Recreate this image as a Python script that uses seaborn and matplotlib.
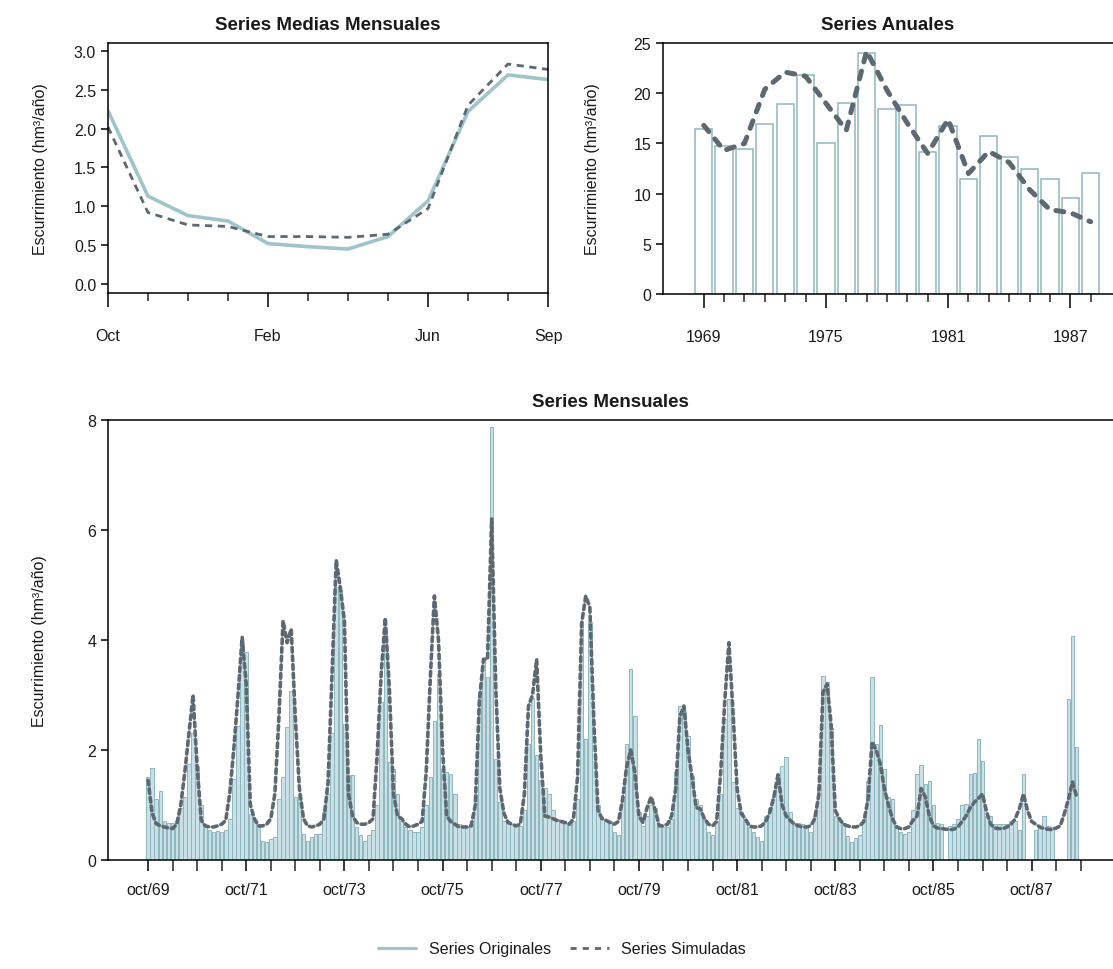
import numpy as np
import pandas as pd
import matplotlib
matplotlib.use("Agg")
import matplotlib.pyplot as plt
from matplotlib.lines import Line2D
from matplotlib.ticker import MultipleLocator, FixedLocator
import seaborn as sns

# -----------------------------
# Data
# -----------------------------
month_names = ["Oct", "Nov", "Dec", "Jan", "Feb", "Mar", "Apr", "May", "Jun", "Jul", "Aug", "Sep"]
mean_orig = [2.23, 1.13, 0.88, 0.81, 0.52, 0.48, 0.45, 0.61, 1.07, 2.22, 2.69, 2.63]
mean_sim = [2.02, 0.92, 0.76, 0.74, 0.61, 0.61, 0.60, 0.64, 0.97, 2.30, 2.83, 2.76]

years = list(range(1969, 1989))
annual_orig = [16.4, 14.7, 14.4, 16.9, 18.9, 21.8, 15.0, 19.0, 24.0, 18.4,
               18.8, 14.1, 16.7, 11.5, 15.7, 13.6, 12.5, 11.5, 9.6, 12.1]
annual_sim = [16.8, 14.3, 15.0, 20.4, 22.1, 21.7, 19.0, 16.3, 24.2, 20.3,
              17.0, 14.0, 17.4, 12.0, 14.2, 13.1, 10.4, 8.4, 8.1, 7.2]

nan = np.nan
# hydrological years oct/69 .. sep/88, one row per year
monthly_orig = [
    1.50, 1.67, 1.10, 1.26, 0.70, 0.68, 0.68, 0.70, 0.95, 1.15, 1.74, 2.30,
    1.70, 1.00, 0.60, 0.55, 0.50, 0.52, 0.50, 0.55, 0.75, 1.47, 2.44, 3.96,
    3.78, 0.84, 0.75, 0.60, 0.35, 0.33, 0.38, 0.42, 1.10, 1.50, 2.42, 3.07,
    1.15, 1.20, 0.48, 0.35, 0.42, 0.48, 0.48, 0.87, 1.20, 2.30, 4.96, 4.90,
    2.47, 1.55, 1.55, 0.60, 0.45, 0.35, 0.45, 0.55, 1.00, 2.87, 4.14, 1.78,
    1.65, 1.20, 0.70, 0.60, 0.55, 0.50, 0.50, 0.60, 1.00, 1.50, 2.53, 3.38,
    1.65, 1.60, 1.56, 1.20, 0.65, 0.60, 0.60, 0.65, 1.20, 3.05, 3.65, 3.33,
    7.87, 1.84, 1.05, 0.70, 0.68, 0.65, 0.62, 0.62, 0.90, 2.10, 2.95, 1.90,
    1.45, 1.30, 1.20, 0.90, 0.75, 0.70, 0.68, 0.65, 0.70, 1.10, 4.32, 2.20,
    4.32, 1.80, 1.00, 0.75, 0.72, 0.70, 0.50, 0.45, 1.15, 2.10, 3.47, 2.62,
    0.87, 0.62, 0.80, 1.00, 0.95, 0.62, 0.60, 0.60, 0.75, 1.60, 2.80, 2.70,
    2.25, 1.53, 1.10, 1.00, 0.75, 0.50, 0.45, 0.70, 1.20, 2.56, 2.93, 1.42,
    0.95, 0.87, 0.75, 0.60, 0.50, 0.42, 0.35, 0.80, 0.95, 1.15, 1.44, 1.70,
    1.87, 0.87, 0.68, 0.68, 0.65, 0.60, 0.50, 0.80, 1.33, 3.35, 3.23, 2.40,
    0.80, 0.72, 0.68, 0.43, 0.33, 0.40, 0.45, 0.75, 1.44, 3.32, 2.10, 2.45,
    1.65, 1.15, 1.10, 0.62, 0.50, 0.48, 0.50, 0.90, 1.56, 1.72, 1.38, 1.44,
    1.00, 0.68, 0.65, nan, 0.62, 0.65, 0.75, 1.00, 1.02, 1.56, 1.58, 2.20,
    1.80, 0.80, 0.80, 0.65, 0.65, 0.65, 0.65, 0.70, 0.70, 0.55, 1.56, nan,
    nan, 0.55, 0.62, 0.80, 0.62, 0.60, nan, nan, nan, 2.93, 4.07, 2.05,
]
monthly_sim = [
    1.45, 0.85, 0.66, 0.62, 0.60, 0.58, 0.57, 0.65, 1.00, 1.60, 2.30, 3.00,
    1.70, 0.72, 0.62, 0.60, 0.60, 0.62, 0.65, 0.72, 1.23, 2.05, 3.00, 4.05,
    3.20, 1.00, 0.75, 0.62, 0.62, 0.65, 0.75, 1.20, 2.60, 4.35, 3.95, 4.20,
    2.60, 1.30, 0.75, 0.62, 0.60, 0.62, 0.65, 0.75, 1.40, 3.40, 5.45, 4.95,
    4.35, 1.20, 0.80, 0.68, 0.65, 0.65, 0.68, 0.75, 1.90, 3.40, 4.40, 3.10,
    1.20, 0.80, 0.75, 0.65, 0.60, 0.62, 0.65, 0.70, 1.60, 3.30, 4.80, 4.00,
    2.00, 0.80, 0.70, 0.65, 0.60, 0.60, 0.60, 0.62, 1.00, 2.90, 3.65, 3.65,
    6.20, 3.15, 1.30, 0.85, 0.68, 0.65, 0.62, 0.65, 1.20, 2.80, 3.00, 3.65,
    1.90, 0.80, 0.78, 0.75, 0.72, 0.70, 0.68, 0.65, 0.75, 1.50, 4.30, 4.80,
    4.60, 2.50, 0.90, 0.75, 0.72, 0.68, 0.65, 0.70, 1.10, 1.70, 2.00, 1.60,
    0.80, 0.68, 0.95, 1.15, 0.90, 0.62, 0.62, 0.65, 0.80, 1.30, 2.60, 2.80,
    2.00, 1.50, 0.95, 0.93, 0.75, 0.65, 0.62, 0.70, 1.60, 2.90, 3.95, 2.70,
    1.30, 0.85, 0.75, 0.62, 0.60, 0.60, 0.62, 0.70, 0.87, 1.15, 1.55, 1.00,
    0.80, 0.72, 0.65, 0.62, 0.60, 0.60, 0.62, 0.75, 1.20, 3.05, 3.20, 2.45,
    0.90, 0.75, 0.65, 0.62, 0.60, 0.60, 0.62, 0.70, 1.10, 2.15, 2.00, 1.75,
    1.30, 1.00, 0.75, 0.60, 0.57, 0.57, 0.60, 0.72, 0.80, 1.30, 1.15, 0.80,
    0.62, 0.58, 0.57, 0.56, 0.55, 0.56, 0.60, 0.70, 0.80, 0.95, 1.05, 1.12,
    1.20, 0.87, 0.65, 0.58, 0.57, 0.57, 0.60, 0.65, 0.75, 0.93, 1.20, 0.90,
    0.70, 0.65, 0.60, 0.57, 0.56, 0.55, 0.58, 0.62, 0.84, 1.10, 1.42, 1.15,
]
tick_labels_monthly = ["oct/69", "oct/71", "oct/73", "oct/75", "oct/77",
                       "oct/79", "oct/81", "oct/83", "oct/85", "oct/87"]

# -----------------------------
# Style
# -----------------------------
sns.set_style("white")
plt.rcParams["font.family"] = ["Liberation Sans", "DejaVu Sans"]
plt.rcParams["axes.linewidth"] = 1.1
plt.rcParams["xtick.direction"] = "out"
plt.rcParams["ytick.direction"] = "out"
plt.rcParams["text.color"] = "#1a1a1a"
plt.rcParams["axes.labelcolor"] = "#1a1a1a"
plt.rcParams["xtick.labelcolor"] = "#1a1a1a"
plt.rcParams["ytick.labelcolor"] = "#1a1a1a"

c_orig = "#9fc4ca"
c_bar = "#c9e1e6"
c_edge = "#8fb6be"
c_sim = "#5d6870"
ylab = "Escurrimiento (hm³/año)"

fig = plt.figure(figsize=(11.13, 9.70), dpi=100)

def style_ticks(ax):
    ax.tick_params(axis="both", which="major", labelsize=11.5, color="black",
                   width=1.1, length=5, bottom=True, left=True)
    ax.tick_params(axis="x", which="minor", length=5, width=1.1, bottom=True)
    for s in ax.spines.values():
        s.set_color("black")

# -----------------------------
# 1. Series Medias Mensuales
# -----------------------------
ax1 = fig.add_axes([0.0970, 0.6969, 0.3954, 0.2577])
df_mean = pd.DataFrame({"mes": range(12), "orig": mean_orig, "sim": mean_sim})
sns.lineplot(data=df_mean, x="mes", y="orig", ax=ax1, color=c_orig, lw=2.6)
sns.lineplot(data=df_mean, x="mes", y="sim", ax=ax1, color=c_sim, lw=2.0,
             dashes=False, linestyle=(0, (2.6, 2.0)))
ax1.set_xlim(0, 11)
ax1.set_ylim(-0.116, 3.10)
ax1.yaxis.set_major_locator(MultipleLocator(0.5))
ax1.yaxis.set_major_formatter(matplotlib.ticker.FormatStrFormatter("%.1f"))
ax1.xaxis.set_major_locator(FixedLocator([0, 4, 8, 11]))
ax1.set_xticklabels([month_names[i] for i in [0, 4, 8, 11]])
ax1.xaxis.set_minor_locator(FixedLocator(range(12)))
style_ticks(ax1)
ax1.tick_params(axis="x", which="major", length=10, pad=15)
ax1.tick_params(axis="x", which="minor", length=6)
ax1.set_xlabel("")
ax1.set_ylabel(ylab, fontsize=11.5, labelpad=19)
ax1.set_title("Series Medias Mensuales", fontsize=13.5, fontweight="bold", pad=10)

# -----------------------------
# 2. Series Anuales
# -----------------------------
ax2 = fig.add_axes([0.5957, 0.6959, 0.4043, 0.2587])
df_year = pd.DataFrame({"anio": years, "orig": annual_orig, "sim": annual_sim})
sns.barplot(data=df_year, x="anio", y="orig", ax=ax2, color="white",
            edgecolor=c_edge, linewidth=1.1, width=0.85, errorbar=None)
ax2.plot(range(len(years)), annual_sim, color=c_sim, lw=3.6,
         linestyle=(0, (1.6, 1.9)), dash_capstyle="round")
ax2.set_xlim(-2, 20.1)
ax2.set_ylim(0, 25)
ax2.yaxis.set_major_locator(MultipleLocator(5))
ax2.xaxis.set_major_locator(FixedLocator([0, 6, 12, 18]))
ax2.set_xticklabels(["1969", "1975", "1981", "1987"])
ax2.xaxis.set_minor_locator(FixedLocator(range(len(years))))
style_ticks(ax2)
ax2.tick_params(axis="x", which="major", length=10, pad=15)
ax2.tick_params(axis="x", which="minor", length=6)
ax2.spines["right"].set_visible(False)
ax2.set_xlabel("")
ax2.set_ylabel(ylab, fontsize=11.5, labelpad=24)
ax2.set_title("Series Anuales", fontsize=13.5, fontweight="bold", pad=10)

# -----------------------------
# 3. Series Mensuales
# -----------------------------
ax3 = fig.add_axes([0.0970, 0.1124, 0.9030, 0.4536])
n = len(monthly_orig)
df_month = pd.DataFrame({"mes": range(n), "orig": monthly_orig, "sim": monthly_sim})
sns.barplot(data=df_month, x="mes", y="orig", ax=ax3, color=c_bar,
            edgecolor=c_edge, linewidth=0.7, width=0.85, errorbar=None,
            saturation=1)
ax3.plot(range(n), monthly_sim, color=c_sim, lw=2.6,
         linestyle=(0, (1.3, 1.1)), dash_capstyle="round")
ax3.set_xlim(-9.8, 235.9)
ax3.set_ylim(0, 8)
ax3.yaxis.set_major_locator(MultipleLocator(2))
ax3.xaxis.set_major_locator(FixedLocator(range(0, 217, 24)))
ax3.set_xticklabels(tick_labels_monthly)
ax3.xaxis.set_minor_locator(FixedLocator(range(0, 229, 6)))
style_ticks(ax3)
ax3.tick_params(axis="x", which="both", length=8)
ax3.tick_params(axis="x", which="major", pad=8)
ax3.spines["right"].set_visible(False)
ax3.set_xlabel("")
ax3.set_ylabel(ylab, fontsize=11.5, labelpad=29)
ax3.set_title("Series Mensuales", fontsize=13.5, fontweight="bold", pad=10)

# legend
handles = [Line2D([], [], color=c_orig, lw=2.2),
           Line2D([], [], color=c_sim, lw=2.0, linestyle=(0, (2.2, 2.2)))]
fig.legend(handles, ["Series Originales", "Series Simuladas"], loc="center",
           bbox_to_anchor=(0.505, 0.021), ncol=2, frameon=False, fontsize=11.5,
           handlelength=2.4, columnspacing=1.2)

fig.savefig("out.png", dpi=100)
